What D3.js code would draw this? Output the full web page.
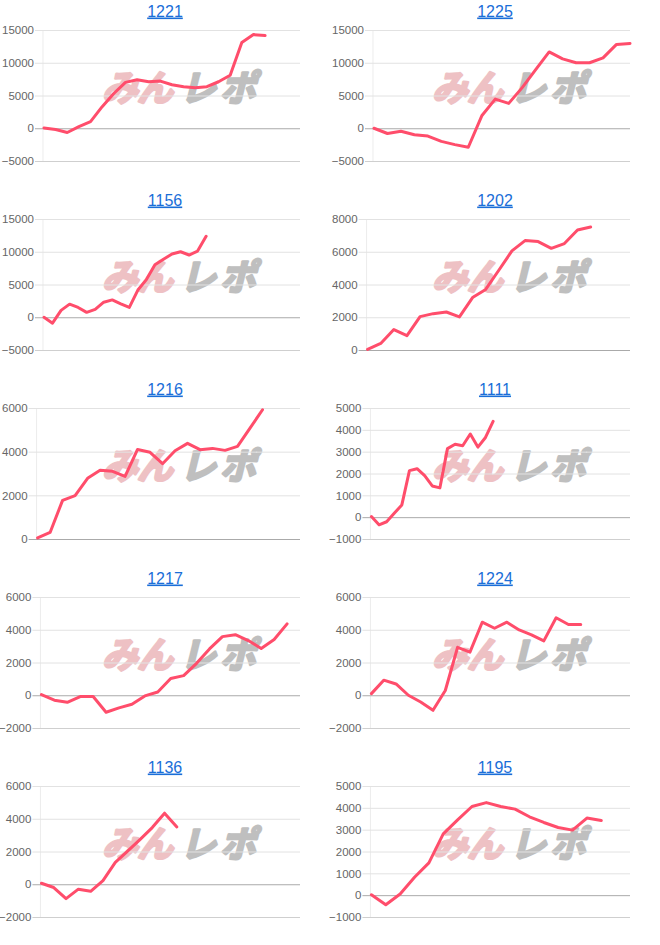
<!DOCTYPE html>
<html>
<head>
<meta charset="utf-8">
<script src="https://cdn.jsdelivr.net/npm/d3@7"></script>
<style>
  body { margin: 0; background: #fff; }
  svg { display: block; }
</style>
</head>
<body>
<script>
const w = 660;
const h = 945;

// chart titles, in grid order (left to right, top to bottom)
const titles = ["1221", "1225", "1156", "1202", "1216", "1111", "1217", "1224", "1136", "1195"];

// series values
const s1221 = [50, -200, -650, 250, 1000, 3300, 5300, 7000, 7400, 7100, 7200, 6650, 6350, 6200, 6350, 7100, 8100, 13100, 14300, 14150];
const s1225 = [0, -800, -450, -1000, -1200, -2000, -2500, -2900, 1900, 4450, 3800, 6200, 8950, 11650, 10600, 10000, 10000, 10750, 12800, 12950];
const s1156 = [0, -900, 1050, 2000, 1500, 750, 1200, 2300, 2650, 2050, 1500, 4150, 5750, 8000, 8850, 9650, 10000, 9500, 10100, 12350];
const s1202 = [40, 400, 1250, 880, 2040, 2220, 2320, 2020, 3200, 3700, 4870, 6050, 6680, 6620, 6210, 6500, 7330, 7510];
const s1216 = [50, 300, 1770, 1985, 2780, 3145, 3100, 2870, 4100, 3970, 3450, 4040, 4380, 4090, 4150, 4060, 4240, 5080, 5920];
const s1111 = [30, -350, -210, 180, 560, 2130, 2220, 1900, 1430, 1340, 3140, 3340, 3270, 3810, 3210, 3650, 4390];
const s1217 = [40, -300, -430, -80, -80, -1040, -770, -550, -40, 200, 1020, 1200, 1950, 2830, 3580, 3700, 3340, 2850, 3400, 4360];
const s1224 = [100, 920, 690, 0, -410, -920, 290, 2930, 2630, 4460, 4090, 4460, 3990, 3690, 3320, 4730, 4320, 4320];
const s1136 = [60, -200, -880, -300, -430, 220, 1340, 2020, 2730, 3460, 4340, 3500];
const s1195 = [20, -440, 50, 820, 1480, 2810, 3450, 4060, 4240, 4060, 3940, 3590, 3330, 3100, 2980, 3530, 3420];
const series = [s1221, s1225, s1156, s1202, s1216, s1111, s1217, s1224, s1136, s1195];

// length of each x axis (number of day slots)
const xSlots = [22, 19, 30, 20, 21, 34, 20, 21, 21, 18];

// y tick labels
const ticksA = [-5000, 0, 5000, 10000, 15000];
const ticksB = [0, 2000, 4000, 6000, 8000];
const ticksC = [0, 2000, 4000, 6000];
const ticksD = [-1000, 0, 1000, 2000, 3000, 4000, 5000];
const ticksE = [-2000, 0, 2000, 4000, 6000];
const yTicks = [ticksA, ticksA, ticksA, ticksB, ticksC, ticksD, ticksE, ticksE, ticksE, ticksD];

const panelW = 330;
const rowStep = 189;
const plotH = 131;
const plotRight = 300;
const labelFont = "11.5px 'Liberation Sans', Arial, sans-serif";

const svg = d3.select("body").append("svg").attr("width", w).attr("height", h);

// measure tick label widths so the plot area starts right after them
const probe = svg.append("text").style("font", labelFont);
const textWidth = (s) => {
  probe.text(s);
  return probe.node().getComputedTextLength();
};

titles.forEach((title, i) => {
  const col = i % 2;
  const row = Math.floor(i / 2);
  const top = 30 + row * rowStep;
  const bottom = top + plotH;
  const ticks = yTicks[i];

  const labelEnd = 2 + d3.max(ticks, (t) => textWidth(String(t)));
  const plotLeft = labelEnd + 9;

  const g = svg.append("g").attr("transform", `translate(${col * panelW}, 0)`);

  const yScale = d3.scaleLinear().domain(d3.extent(ticks)).range([bottom, top]);
  const xScale = d3.scaleLinear().domain([0, xSlots[i]]).range([plotLeft + 1, plotRight]);

  // watermark
  const wm = g.append("g")
    .attr("transform", `translate(104, ${top + 71}) skewX(-14)`)
    .style("font-family", "'Noto Sans CJK JP', sans-serif")
    .style("font-weight", 700)
    .style("font-size", "36px")
    .attr("stroke-width", 2.6)
    .attr("stroke-linejoin", "round");
  wm.append("text").attr("x", -2).attr("fill", "#eab2b6").attr("stroke", "#eab2b6")
    .attr("opacity", 0.8).attr("textLength", 71).text("みん");
  wm.append("text").attr("x", 76).attr("fill", "#b4b4b4").attr("stroke", "#b4b4b4")
    .attr("opacity", 0.85).attr("textLength", 76).text("レポ");

  // left edge line
  g.append("line")
    .attr("x1", plotLeft).attr("x2", plotLeft)
    .attr("y1", top).attr("y2", bottom)
    .attr("stroke", "#ececec");

  // y axis: gridlines and labels
  const yAxis = d3.axisLeft(yScale)
    .tickValues(ticks)
    .tickSize(-(plotRight - labelEnd - 1))
    .tickPadding(1)
    .tickFormat(d3.format("d"));

  const ax = g.append("g")
    .attr("transform", `translate(${labelEnd + 1}, 0)`)
    .call(yAxis);
  ax.select(".domain").remove();
  ax.selectAll(".tick line")
    .attr("stroke", (d) => (d === 0 ? "#aaa" : d === ticks[0] ? "#cfcfcf" : "#e2e2e2"));
  ax.selectAll(".tick text")
    .style("font", labelFont)
    .attr("fill", "#666");

  // title
  g.append("text")
    .attr("x", 165)
    .attr("y", top - 13.5)
    .attr("text-anchor", "middle")
    .style("font", "16px 'Liberation Sans', Arial, sans-serif")
    .style("text-decoration", "underline")
    .attr("fill", "#1a6ed8")
    .text(title);

  // series line
  const line = d3.line()
    .x((d, k) => xScale(k))
    .y((d) => yScale(d));

  g.append("path")
    .datum(series[i])
    .attr("d", line)
    .attr("fill", "none")
    .attr("stroke", "#ff4d6b")
    .attr("stroke-width", 3)
    .attr("stroke-linejoin", "round")
    .attr("stroke-linecap", "round");
});

probe.remove();
</script>
</body>
</html>
